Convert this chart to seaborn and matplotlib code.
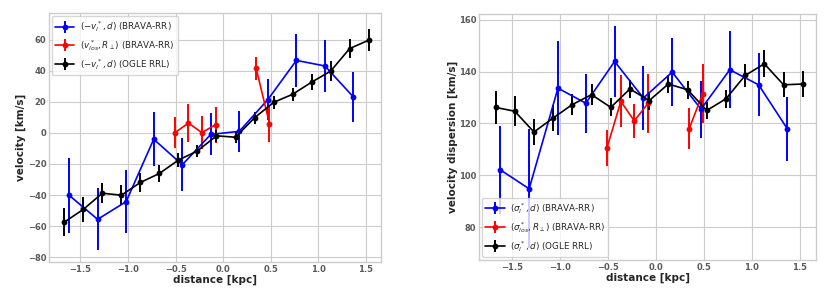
import numpy as np
import pandas as pd
import matplotlib
matplotlib.use("Agg")
import matplotlib.pyplot as plt
from matplotlib.lines import Line2D
from matplotlib.legend_handler import HandlerTuple
import seaborn as sns

# ---------------- data ----------------
x_brava = [-1.62, -1.32, -1.02, -0.73, -0.43, -0.13, 0.17, 0.47, 0.77, 1.07, 1.37]
x_los = [-0.51, -0.365, -0.225, -0.08, 0.347, 0.487]
los_segment = [0, 0, 0, 0, 1, 1]
x_ogle = [-1.67, -1.47, -1.27, -1.07, -0.87, -0.67, -0.47, -0.27, -0.07,
          0.13, 0.33, 0.53, 0.73, 0.93, 1.13, 1.33, 1.53]

# left panel: velocity
v_brava = [-40.1, -55.6, -44.2, -4.1, -20.5, -1.0, 1.0, 21.4, 46.6, 43.0, 23.0]
v_brava_err = [24, 20, 20.5, 17.5, 17, 13.5, 13, 13, 17, 17, 16]
v_los = [0.0, 6.3, 0.2, 5.2, 41.4, 6.0]
v_los_err = [10, 12, 10.5, 11.5, 7.5, 12]
v_ogle = [-57.4, -49.2, -38.8, -40.1, -31.9, -26.1, -17.5, -11.6, -1.9,
          -2.8, 9.7, 19.6, 24.8, 32.6, 39.7, 54.2, 59.6]
v_ogle_err = [9, 8, 6.5, 6.5, 6, 5.5, 4.5, 4, 4, 4, 4, 4, 4, 5, 6.5, 6, 7]

# right panel: velocity dispersion
s_brava = [102.1, 94.8, 133.6, 127.8, 143.9, 129.8, 139.8, 125.5, 140.7, 134.9, 117.9]
s_brava_err = [17, 23, 18, 11.3, 13.6, 12.4, 13, 11, 14.8, 12.2, 12.4]
s_los = [110.5, 128.5, 121.0, 127.8, 118.0, 131.4]
s_los_err = [7, 10, 6.6, 11.3, 8, 11.4]
s_ogle = [126.2, 124.7, 116.7, 122.1, 127.3, 131.1, 126.2, 133.3, 128.8,
          135.2, 133.0, 125.0, 129.5, 138.5, 143.0, 134.9, 135.2]
s_ogle_err = [6.5, 5.8, 5, 5, 4, 4, 3.5, 3.4, 3.5, 3.5, 3.4, 3.3, 3.5, 4.6, 5.2, 4.8, 5]

labels_left = [r"$(-v_l^*, d)$ (BRAVA-RR)", r"$(v_{los}^*, R_\perp)$ (BRAVA-RR)",
               r"$(-v_l^*, d)$ (OGLE RRL)"]
labels_right = [r"$(\sigma_l^*, d)$ (BRAVA-RR)", r"$(\sigma_{los}^*, R_\perp)$ (BRAVA-RR)",
                r"$(\sigma_l^*, d)$ (OGLE RRL)"]
colors = ["blue", "red", "black"]

# ---------------- style ----------------
sns.set_style("whitegrid", {"grid.color": "0.8", "axes.edgecolor": "0.8"})
plt.rcParams["font.family"] = ["DejaVu Sans"]
plt.rcParams["mathtext.fontset"] = "dejavusans"

fig = plt.figure(figsize=(8.32, 2.98), dpi=100)
axL = fig.add_axes([0.059, 0.121, 0.399, 0.835])
axR = fig.add_axes([0.576, 0.128, 0.405, 0.825])

MS = 4.2
LW = 1.2
ELW = 1.4


def draw(ax, series, labels):
    handles = []
    for (x, y, e, seg), c, lab in zip(series, colors, labels):
        df = pd.DataFrame({"x": x, "y": y, "seg": seg})
        ax.errorbar(x, y, yerr=e, fmt="none", ecolor=c, elinewidth=ELW, zorder=2)
        sns.lineplot(data=df, x="x", y="y", units="seg", estimator=None, sort=False,
                     color=c, marker="o", markersize=MS, markeredgewidth=0,
                     linewidth=LW, ax=ax, legend=False, zorder=3)
        h = (Line2D([], [], color=c, lw=LW, marker="o", ms=MS, mew=0),
             Line2D([], [], color=c, lw=0, marker="|", ms=8, mew=ELW))
        handles.append(h)
    return handles


left_series = [
    (x_brava, v_brava, v_brava_err, [0] * len(x_brava)),
    (x_los, v_los, v_los_err, los_segment),
    (x_ogle, v_ogle, v_ogle_err, [0] * len(x_ogle)),
]
right_series = [
    (x_brava, s_brava, s_brava_err, [0] * len(x_brava)),
    (x_los, s_los, s_los_err, los_segment),
    (x_ogle, s_ogle, s_ogle_err, [0] * len(x_ogle)),
]

hL = draw(axL, left_series, labels_left)
hR = draw(axR, right_series, labels_right)

axL.set_xlim(-1.83, 1.66)
axL.set_ylim(-83, 77)
axL.set_yticks(np.arange(-80, 61, 20))
axR.set_xlim(-1.84, 1.67)
axR.set_ylim(67.4, 162.2)
axR.set_yticks(np.arange(80, 161, 20))

for ax, ylab in [(axL, "velocity [km/s]"), (axR, "velocity dispersion [km/s]")]:
    ax.set_xticks(np.arange(-1.5, 1.51, 0.5))
    ax.set_xlabel("distance [kpc]", fontsize=7.5, fontweight="bold", labelpad=1)
    ax.set_ylabel(ylab, fontsize=7.5, fontweight="bold", labelpad=1)
    ax.tick_params(axis="both", labelsize=6, colors="0.35", pad=2, length=0)
    for t in ax.get_xticklabels() + ax.get_yticklabels():
        t.set_fontweight("bold")
    for s in ax.spines.values():
        s.set_color("0.8")
        s.set_linewidth(1.0)

leg_kw = dict(fontsize=6.3, frameon=True,
              handler_map={tuple: HandlerTuple(ndivide=1, pad=0)},
              borderpad=0.4, labelspacing=0.45, handlelength=2.2, handletextpad=0.6,
              borderaxespad=0.3)
axL.legend(hL, labels_left, loc="upper left", **leg_kw)
axR.legend(hR, labels_right, loc="lower left", **leg_kw)

fig.savefig("out.png", dpi=100)
